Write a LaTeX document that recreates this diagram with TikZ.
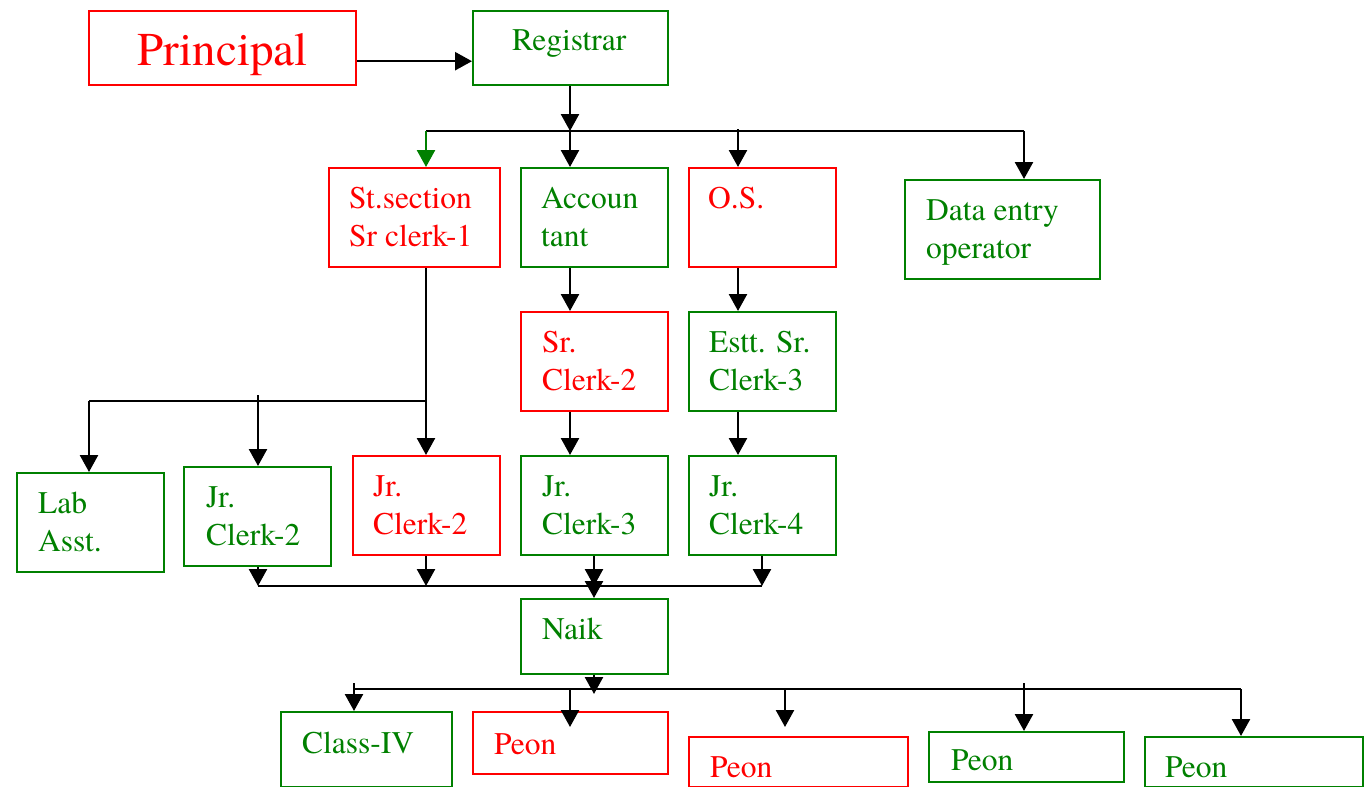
\documentclass[tikz,border=0pt]{standalone}
\usepackage{fontspec}
\setmainfont{texgyretermes}[Extension=.otf, UprightFont=*-regular, BoldFont=*-bold]
\usetikzlibrary{arrows.meta}
\definecolor{rd}{RGB}{255,0,0}
\definecolor{gn}{RGB}{0,128,0}
\newcommand\twoln[2]{\vtop{\hbox{#1}\hbox{#2}}}
\tikzset{
  box/.style={draw, line width=2.4pt, inner sep=0pt, anchor=north west, fill=none},
  rbox/.style={box, draw=rd},
  gbox/.style={box, draw=gn},
  txt/.style={anchor=base west, inner sep=0pt, font=\fontsize{31.5}{38}\selectfont},
  rtxt/.style={txt, text=rd},
  gtxt/.style={txt, text=gn},
  conn/.style={line width=2.5pt, black},
  arr/.style={conn, -{Triangle[width=18pt,length=17pt]}},
}
\begin{document}
\begin{tikzpicture}[x=1pt,y=-1pt]
\useasboundingbox (0,0) rectangle (1366,787);
% boxes
\node[rbox, minimum width=267pt, minimum height=74pt] (principal) at (88,10) {};
\node[gbox, minimum width=195pt, minimum height=74pt] (registrar) at (472,10) {};
\node[rbox, minimum width=171pt, minimum height=99pt] (stsec) at (328,167) {};
\node[gbox, minimum width=147pt, minimum height=99pt] (acct) at (520,167) {};
\node[rbox, minimum width=147pt, minimum height=99pt] (os) at (688,167) {};
\node[gbox, minimum width=195pt, minimum height=99pt] (de) at (904,179) {};
\node[rbox, minimum width=147pt, minimum height=99pt] (src) at (520,311) {};
\node[gbox, minimum width=147pt, minimum height=99pt] (estt) at (688,311) {};
\node[gbox, minimum width=147pt, minimum height=99pt] (lab) at (16,472) {};
\node[gbox, minimum width=147pt, minimum height=99pt] (jcg) at (183,466) {};
\node[rbox, minimum width=147pt, minimum height=99pt] (jcr) at (352,455) {};
\node[gbox, minimum width=147pt, minimum height=99pt] (jc3) at (520,455) {};
\node[gbox, minimum width=147pt, minimum height=99pt] (jc4) at (688,455) {};
\node[gbox, minimum width=147pt, minimum height=75pt] (naik) at (520,598) {};
\node[gbox, minimum width=171pt, minimum height=75pt] (cls) at (280,711) {};
\node[rbox, minimum width=195pt, minimum height=62pt] (p1) at (472,711) {};
\node[rbox, minimum width=219pt, minimum height=50pt] (p2) at (688,736) {};
\node[gbox, minimum width=195pt, minimum height=50pt] (p3) at (928,731) {};
\node[gbox, minimum width=218pt, minimum height=50pt] (p4) at (1144,736) {};
% texts
\node[rtxt, font=\fontsize{47}{52}\selectfont] (tprincipal) at (137,65) {Principal};
\node[gtxt] (tregistrar) at (512,50) {Registrar};
\node[rtxt] (tstsec) at (349,208) {\twoln{St.section}{Sr clerk-1}};
\node[gtxt] (tacct) at (541,208) {\twoln{Accoun}{tant}};
\node[rtxt] (tos) at (708,208) {O.S.};
\node[gtxt] (tde) at (926,220) {\twoln{Data entry}{operator}};
\node[rtxt] (tsrc) at (542,352) {\twoln{Sr.}{Clerk-2}};
\node[gtxt] (testt) at (709,352) {\twoln{Estt. Sr.}{Clerk-3}};
\node[gtxt] (tlab) at (38,513) {\twoln{Lab}{Asst.}};
\node[gtxt] (tjcg) at (206,507) {\twoln{Jr.}{Clerk-2}};
\node[rtxt] (tjcr) at (373,496) {\twoln{Jr.}{Clerk-2}};
\node[gtxt] (tjc3) at (542,496) {\twoln{Jr.}{Clerk-3}};
\node[gtxt] (tjc4) at (709,496) {\twoln{Jr.}{Clerk-4}};
\node[gtxt] (tnaik) at (542,639) {Naik};
\node[gtxt] (tcls) at (302,753) {Class-IV};
\node[rtxt] (tp1) at (494,754) {Peon};
\node[rtxt] (tp2) at (710,777) {Peon};
\node[gtxt] (tp3) at (951,770) {Peon};
\node[gtxt] (tp4) at (1165,777) {Peon};
% coordinates
\coordinate (pa) at ([yshift=-13pt]principal.east);
\coordinate (b1a) at (426,131);
\coordinate (b1b) at (570,131);
\coordinate (b1c) at (738,129);
\coordinate (b1d) at (1024,131);
\coordinate (b2a) at (89,401);
\coordinate (b2b) at (258,395);
\coordinate (b2c) at (426,401);
\coordinate (b3a) at (258,586);
\coordinate (b3b) at (426,586);
\coordinate (b3c) at (594,586);
\coordinate (b3d) at (762,586);
\coordinate (b4a) at (354,689);
\coordinate (b4c) at (594,694);
\coordinate (b4e) at (1241,689);
\coordinate (c4a) at (354,683);
\coordinate (c4b) at (570,689);
\coordinate (e4b) at (570,727);
\coordinate (c4c) at (785,689);
\coordinate (e4c) at (785,727);
\coordinate (c4d) at (1024,683);
% connectors
\draw[arr] (pa) -- (pa -| registrar.west);
\draw[arr] (registrar.south -| b1b) -- (b1b);
\draw[conn] (b1a) -- (b1d);
\draw[arr, gn] (b1a) -- (b1a |- stsec.north);
\draw[arr] (b1b) -- (b1b |- acct.north);
\draw[arr] (b1c) -- (b1c |- os.north);
\draw[arr] (b1d) -- (b1d |- de.north);
\draw[arr] (acct.south -| b1b) -- (b1b |- src.north);
\draw[arr] (os.south -| b1c) -- (b1c |- estt.north);
\draw[arr] (src.south -| b1b) -- (b1b |- jc3.north);
\draw[arr] (estt.south -| b1c) -- (b1c |- jc4.north);
\draw[arr] (stsec.south -| b2c) -- (b2c |- jcr.north);
\draw[conn] (b2a) -- (b2c);
\draw[arr] (b2a) -- (b2a |- lab.north);
\draw[arr] (b2b) -- (b2b |- jcg.north);
\draw[conn] (b3a) -- (b3d);
\draw[arr] (jcg.south -| b3a) -- (b3a);
\draw[arr] (jcr.south -| b3b) -- (b3b);
\draw[arr] (jc3.south -| b3c) -- (b3c);
\draw[arr] (jc4.south -| b3d) -- (b3d);
\draw[arr] (b3c) -- (b3c |- naik.north);
\draw[arr] (naik.south -| b4c) -- (b4c);
\draw[conn] (b4a) -- (b4e);
\draw[arr] (c4a) -- (cls.north -| c4a);
\draw[arr] (c4b) -- (e4b);
\draw[arr] (c4c) -- (e4c);
\draw[arr] (c4d) -- (p3.north -| c4d);
\draw[arr] (b4e) -- (b4e |- p4.north);
\end{tikzpicture}
\end{document}
